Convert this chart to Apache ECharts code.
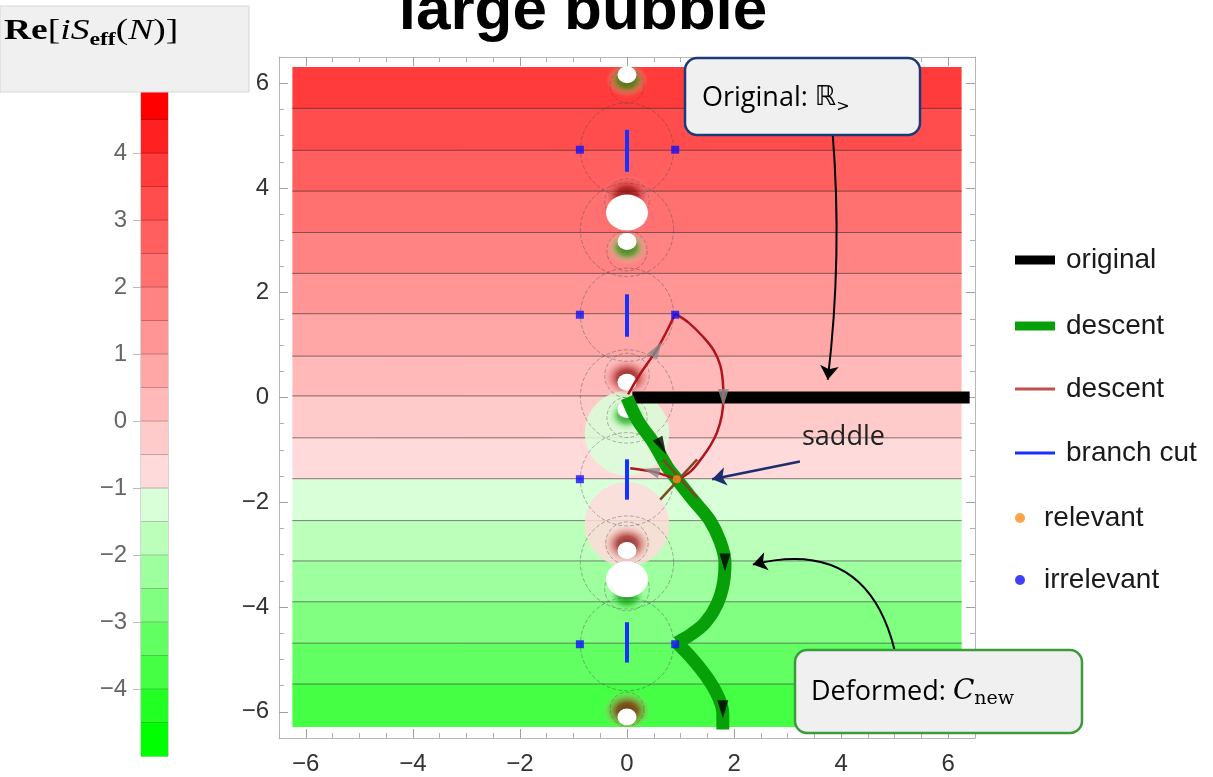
<!DOCTYPE html>
<html><head><meta charset="utf-8">
<script src="https://cdn.jsdelivr.net/npm/echarts@6/dist/echarts.min.js"></script>
<style>html,body{margin:0;padding:0;background:#fff;}#c{width:1213px;height:777px;}</style>
</head><body><div id="c"></div>
<script>
// ---------- DATA ----------
// colour bar levels Re[iS_eff(N)] and their colours
const cbEdges = [-5,-4.5,-4,-3.5,-3,-2.5,-2,-1.5,-1,-0.5,0,0.5,1,1.5,2,2.5,3,3.5,4,4.5,5];
const cbColors = ['#00ff00','#22ff22','#44ff44','#62ff62','#80ff80','#9dff9d','#bbffbb','#d9ffd9',
                  '#ffdada','#ffcaca','#ffb9b9','#ffa7a7','#ff9595','#ff8383','#ff7171','#ff5f5f','#ff4d4d','#ff3b3b','#ff2121','#ff0000'];
const cbTicks = [-4,-3,-2,-1,0,1,2,3,4];
// main plot ticks
const majorTicks = [-6,-4,-2,0,2,4,6];
const minorTicks = [-6.5,-5.5,-5,-4.5,-3.5,-3,-2.5,-1.5,-1,-0.5,0.5,1,1.5,2.5,3,3.5,4.5,5,5.5,6.5];
// horizontal contour bands far from Re N = 0 (y edges, value inside band)
const bandEdgesY = [-6.28,-5.47,-4.69,-3.90,-3.12,-2.35,-1.55,-0.77,0.03,0.79,1.60,2.37,3.15,3.94,4.72,5.52,6.30];
const bandValues = [-3.75,-3.25,-2.75,-2.25,-1.75,-1.25,-0.75,-0.25,0.25,0.75,1.25,1.75,2.25,2.75,3.25,3.75];
const regionX = [-6.25, 6.25];
// tinted lens regions next to the poles  [x, y, radius, value]
const tintDiscs = [[0,-0.68,0.8,-1.25],[0,-2.42,0.8,-0.75]];
// contour rings around Re N = 0  [x, y, radius]
const contourRings = [[0,4.73,0.88],[0,3.2,0.88],[0,1.58,0.88],[0,0.02,0.88],[0,-1.56,0.88],[0,-3.15,0.88],[0,-4.71,0.88],
                      [0,3.75,0.42],[0,2.8,0.38],[0,0.42,0.42],[0,-0.38,0.38],[0,-2.78,0.4],[0,-3.65,0.42],[0,5.95,0.32],[0,-5.95,0.32]];
// poles
const redHalos = [[0,3.86],[0,0.38],[0,-2.8],[0,-5.98]];
const greenHalos = [[0,6.06],[0,2.86],[0,-0.34],[0,-3.8]];
const bigPoles = [[0,3.53],[0,-3.47]];
const smallPoles = [[0,6.16],[0,2.98],[0,0.29],[0,-0.23],[0,-2.92],[0,-6.1]];
// curves
const original = [[0.1,0],[6.4,0]];
const greenUpper = [[0,0],[0.19,-0.42],[0.49,-0.86],[0.75,-1.32],[0.93,-1.56],[1.23,-1.95],[1.55,-2.35],[1.74,-2.75],[1.83,-3.15],[1.8,-3.55],[1.68,-3.95],[1.46,-4.3],[1.2,-4.52],[0.93,-4.68]];
const greenLower = [[0.93,-4.68],[1.23,-5.0],[1.52,-5.38],[1.72,-5.75],[1.79,-6.05],[1.79,-6.34]];
const redA = [[0.02,0.06],[0.24,0.44],[0.56,0.92],[0.76,1.3],[0.9,1.6]];
const redB = [[0.9,1.6],[1.16,1.42],[1.42,1.16],[1.62,0.9],[1.74,0.62],[1.79,0.3],[1.8,0.0],[1.77,-0.35],[1.68,-0.67],[1.55,-0.93],[1.4,-1.15],[1.2,-1.4],[0.93,-1.58]];
const redC = [[0.06,-1.35],[0.5,-1.42],[0.93,-1.56]];
const branchCuts = [[[0,5.11],[0,4.31]],[[0,1.97],[0,1.16]],[[0,-1.18],[0,-1.95]],[[0,-4.29],[0,-5.06]]];
const relevant = [[0.93,-1.56]];
const irrelevant = [[-0.88,4.73],[0.9,4.73],[-0.88,1.58],[0.9,1.58],[-0.88,-1.56],[-0.88,-4.71],[0.9,-4.71]];
const saddleCross = [[[0.62,-1.95],[1.31,-1.18]],[[0.67,-1.18],[1.31,-1.91]]];
const grayArrows = [[0.56,0.92,-32],[1.8,0.0,180],[0.45,-1.4,75]];
const blackArrows = [[0.65,-0.93,208],[1.83,-3.15,180],[1.79,-5.95,180]];
const annotArrowOriginal = [[3.84,5.06],[3.75,0.34]];
const annotArrowSaddle = [[3.23,-1.22],[1.59,-1.56]];
const annotArrowDeformed = [[5.0,-4.83],[2.35,-3.19]];

// ---------- HELPERS ----------
const minus = v => (v < 0 ? '\u2212' + Math.abs(v) : String(v));
function bandColor(v){ for (let i=0;i<cbColors.length;i++){ if (v>=cbEdges[i] && v<cbEdges[i+1]) return cbColors[i]; } return cbColors[cbColors.length-1]; }
const FONT = '"Liberation Sans", Arial, Helvetica, sans-serif';

const bandData = bandValues.map((v,i)=>[regionX[0], bandEdgesY[i], regionX[1], bandEdgesY[i+1], v]);
const cbData = cbColors.map((c,i)=>[0, cbEdges[i], 1, cbEdges[i+1], i]);

function axisPair(kind, pos, withLabel){
  const base = {type:'value', min:-6.5, max:6.5, position:pos, splitLine:{show:false}, gridIndex:0};
  const major = Object.assign({}, base, {
    axisLine:{show:true, onZero:false, lineStyle:{color:'#b8b8b8', width:1}},
    axisTick:{show:true, inside:true, length:9, customValues:majorTicks, lineStyle:{color:'#a0a0a0'}},
    axisLabel: withLabel ? {show:true, customValues:majorTicks, formatter:minus, fontSize:24, color:'#333', fontFamily:FONT, margin: kind==='x'?14:10} : {show:false}
  });
  const minor = Object.assign({}, base, {
    axisLine:{show:false, onZero:false},
    axisTick:{show:true, inside:true, length:5, customValues:minorTicks, lineStyle:{color:'#b0b0b0'}},
    axisLabel:{show:false}
  });
  return [major, minor];
}

const xAxes = [...axisPair('x','bottom',true), ...axisPair('x','top',false),
  {type:'value', gridIndex:1, min:0, max:1, show:false}];
const yAxes = [...axisPair('y','left',true), ...axisPair('y','right',false),
  {type:'value', gridIndex:1, min:-5, max:5, position:'left',
   axisLine:{show:false, onZero:false}, splitLine:{show:false},
   axisTick:{show:true, customValues:cbTicks, length:8, lineStyle:{color:'#bbb'}},
   axisLabel:{customValues:cbTicks, formatter:minus, fontSize:24, color:'#666', fontFamily:FONT, margin:14}}];

function lineSeries(name, data, color, width, extra){
  return Object.assign({type:'line', name, data, xAxisIndex:0, yAxisIndex:0, symbol:'none', showSymbol:false,
    lineStyle:{color, width, cap:'butt'}, itemStyle:{color}, silent:true, animation:false}, extra||{});
}

const series = [
  // background bands with horizontal contour lines
  {type:'custom', name:'bands', xAxisIndex:0, yAxisIndex:0, data:bandData, encode:{x:[0,2], y:[1,3]}, silent:true, z:1,
   renderItem:(params, api)=>{
     const p0 = api.coord([api.value(0), api.value(3)]);
     const p1 = api.coord([api.value(2), api.value(1)]);
     const ch = [{type:'rect', shape:{x:p0[0], y:p0[1]-0.5, width:p1[0]-p0[0], height:p1[1]-p0[1]+1}, style:{fill:bandColor(api.value(4))}}];
     if (params.dataIndex>0) ch.push({type:'line', shape:{x1:p0[0], y1:p1[1], x2:p1[0], y2:p1[1]}, style:{stroke:'rgba(50,50,50,0.6)', lineWidth:1}});
     return {type:'group', children:ch};
   }},
  // tinted lens regions
  {type:'custom', name:'tints', xAxisIndex:0, yAxisIndex:0, data:tintDiscs, encode:{x:0, y:1}, silent:true, z:2,
   renderItem:(params, api)=>{
     const c = api.coord([api.value(0), api.value(1)]);
     const s = api.size([api.value(2), api.value(2)]);
     return {type:'circle', shape:{cx:c[0], cy:c[1], r:(s[0]+s[1])/2}, style:{fill:bandColor(api.value(3)), opacity:0.85}};
   }},
  // contour rings near Re N = 0
  {type:'custom', name:'rings', xAxisIndex:0, yAxisIndex:0, data:contourRings, encode:{x:0, y:1}, silent:true, z:2,
   renderItem:(params, api)=>{
     const c = api.coord([api.value(0), api.value(1)]);
     const s = api.size([api.value(2), api.value(2)]);
     return {type:'circle', shape:{cx:c[0], cy:c[1], r:(s[0]+s[1])/2}, style:{fill:'none', stroke:'rgba(70,70,70,0.4)', lineWidth:1, lineDash:[4,2]}};
   }},
  // pole halos
  {type:'scatter', name:'redHalo', data:redHalos, symbol:'circle', symbolSize:[50,40], silent:true, z:3,
   itemStyle:{color:new echarts.graphic.RadialGradient(0.5,0.5,0.5,[
     {offset:0,color:'rgba(110,0,0,1)'},{offset:0.4,color:'rgba(150,15,15,0.85)'},{offset:0.7,color:'rgba(200,70,70,0.35)'},{offset:1,color:'rgba(255,200,200,0)'}])}},
  {type:'scatter', name:'greenHalo', data:greenHalos, symbol:'circle', symbolSize:[42,34], silent:true, z:3,
   itemStyle:{color:new echarts.graphic.RadialGradient(0.5,0.5,0.5,[
     {offset:0,color:'rgba(0,120,0,1)'},{offset:0.45,color:'rgba(20,170,20,0.75)'},{offset:0.75,color:'rgba(120,230,120,0.3)'},{offset:1,color:'rgba(200,255,200,0)'}])}},
  {type:'scatter', name:'bigPoles', data:bigPoles, symbol:'circle', symbolSize:[42,36], silent:true, z:4, itemStyle:{color:'#ffffff', opacity:1}},
  {type:'scatter', name:'smallPoles', data:smallPoles, symbol:'circle', symbolSize:[19,17], silent:true, z:4, itemStyle:{color:'#ffffff', opacity:1}},
  // curves
  lineSeries('original', original, '#000000', 12, {z:5}),
  lineSeries('descent', greenUpper, '#08a008', 13, {z:6, smooth:0.35}),
  lineSeries('descent', greenLower, '#08a008', 13, {z:6, smooth:0.3}),
  lineSeries('descent ', redA, '#b0141c', 2.5, {z:7, smooth:0.3}),
  lineSeries('descent ', redB, '#b0141c', 2.5, {z:7, smooth:0.4}),
  lineSeries('descent ', redC, '#b0141c', 2.5, {z:7, smooth:0.3}),
  {type:'lines', name:'branch cut', coordinateSystem:'cartesian2d', xAxisIndex:0, yAxisIndex:0, silent:true, z:8,
   data:branchCuts.map(c=>({coords:c})), lineStyle:{color:'#1630ff', width:4, opacity:1}, itemStyle:{color:'#1630ff'}},
  {type:'lines', name:'saddleX', coordinateSystem:'cartesian2d', xAxisIndex:0, yAxisIndex:0, silent:true, z:9,
   data:saddleCross.map(c=>({coords:c})), lineStyle:{color:'#7a4b1f', width:2.5, opacity:1}},
  {type:'scatter', name:'relevant', data:relevant, symbol:'circle', symbolSize:8, z:10, silent:true, itemStyle:{color:'#ff8c1a'}},
  {type:'scatter', name:'irrelevant', data:irrelevant, symbol:'rect', symbolSize:8, z:10, silent:true, itemStyle:{color:'#1010ff'}},
  {type:'scatter', name:'grayArrows', data:grayArrows.map(a=>({value:[a[0],a[1]], symbolRotate:a[2]})), symbol:'triangle', symbolSize:[11,17], z:11, silent:true, itemStyle:{color:'#8a8a8a'}},
  {type:'scatter', name:'blackArrows', data:blackArrows.map(a=>({value:[a[0],a[1]], symbolRotate:a[2]})), symbol:'triangle', symbolSize:[11,18], z:11, silent:true, itemStyle:{color:'#000'}},
  // annotation arrows
  {type:'lines', name:'arrowOrig', coordinateSystem:'cartesian2d', xAxisIndex:0, yAxisIndex:0, silent:true, z:12,
   data:[{coords:annotArrowOriginal}], symbol:['none','arrow'], symbolSize:14, lineStyle:{color:'#000', width:2, curveness:0.05, opacity:1}, itemStyle:{color:'#000'}},
  {type:'lines', name:'arrowSaddle', coordinateSystem:'cartesian2d', xAxisIndex:0, yAxisIndex:0, silent:true, z:12,
   data:[{coords:annotArrowSaddle}], symbol:['none','arrow'], symbolSize:14, lineStyle:{color:'#1b2e6e', width:2.5, curveness:0, opacity:1}},
  {type:'lines', name:'arrowDef', coordinateSystem:'cartesian2d', xAxisIndex:0, yAxisIndex:0, silent:true, z:12,
   data:[{coords:annotArrowDeformed}], symbol:['none','arrow'], symbolSize:14, lineStyle:{color:'#000', width:2, curveness:-0.5, opacity:1}},
  // colour bar
  {type:'custom', name:'colorbar', xAxisIndex:4, yAxisIndex:4, data:cbData, encode:{x:[0,2], y:[1,3]}, silent:true,
   renderItem:(params, api)=>{
     const p0 = api.coord([api.value(0), api.value(3)]);
     const p1 = api.coord([api.value(2), api.value(1)]);
     const ch = [{type:'rect', shape:{x:p0[0], y:p0[1]-0.5, width:p1[0]-p0[0], height:p1[1]-p0[1]+1}, style:{fill:cbColors[api.value(4)]}}];
     if (params.dataIndex>0) ch.push({type:'line', shape:{x1:p0[0], y1:p1[1], x2:p1[0], y2:p1[1]}, style:{stroke:'rgba(0,0,0,0.22)', lineWidth:1}});
     return {type:'group', children:ch};
   }}
];

function legendItem(name, top, left, w, h, icon, color, padLeft){
  return {show:true, orient:'vertical', left, top, itemWidth:w, itemHeight:h, selectedMode:false,
    data:[{name, icon, itemStyle:{color, borderWidth:0}}],
    textStyle:{fontSize:28, color:'#1a1a1a', fontFamily:FONT, padding:[0,0,0,padLeft]}};
}

const option = {
  animation:false,
  backgroundColor:'#ffffff',
  title:{text:'large bubble', left:578, textAlign:'center', top:-24,
         textStyle:{fontSize:62, fontWeight:'bold', color:'#000', fontFamily:FONT}},
  grid:[{left:279, top:57, width:696, height:681, show:false},
        {left:141, top:86, width:27, height:670, show:true, borderColor:'#aaa', borderWidth:1, backgroundColor:'transparent'}],
  xAxis:xAxes, yAxis:yAxes,
  legend:[
    legendItem('original', 241, 1010, 40, 9, 'rect', '#000', 6),
    legendItem('descent', 307, 1010, 40, 9, 'rect', '#08a008', 6),
    legendItem('descent ', 370, 1010, 40, 3, 'rect', '#c0504d', 6),
    legendItem('branch cut', 434, 1010, 40, 3, 'rect', '#1630ff', 6),
    legendItem('relevant', 499, 1010, 10, 10, 'circle', '#ff8c1a', 14),
    legendItem('irrelevant', 561, 1010, 10, 10, 'circle', '#1010ff', 14)
  ],
  series,
  graphic:[
    {type:'rect', z:100, shape:{x:0, y:6, width:249, height:86}, style:{fill:'#f0f0f0', stroke:'#d6d6d6', lineWidth:1}},
    {type:'text', z:101, x:4, y:31, scaleX:1.25, style:{
      text:'{b|Re}{n|[}{i|iS}{s|eff}{n|(}{i|N}{n|)]}',
      textVerticalAlign:'middle',
      rich:{
        b:{fontSize:30, fontWeight:'bold', fontFamily:'"Liberation Serif", "DejaVu Serif", serif', color:'#222', lineHeight:38, verticalAlign:'middle'},
        n:{fontSize:30, fontFamily:'"Liberation Serif", "DejaVu Serif", serif', color:'#222', lineHeight:38, verticalAlign:'middle'},
        i:{fontSize:30, fontStyle:'italic', fontFamily:'"Liberation Serif", "DejaVu Serif", serif', color:'#222', lineHeight:38, verticalAlign:'middle'},
        s:{fontSize:19, fontWeight:'bold', fontFamily:'"Liberation Serif", "DejaVu Serif", serif', color:'#222', lineHeight:19, verticalAlign:'bottom'}
      }}},
    {type:'rect', z:100, shape:{x:685, y:58, width:235, height:77, r:12}, style:{fill:'#f0f0f0', stroke:'#1d3a78', lineWidth:2.5}},
    {type:'text', z:101, x:702, y:98, style:{
      text:'{t|Original: }{r|\u211D}{s|>}', textVerticalAlign:'middle',
      rich:{ t:{fontSize:27, fontFamily:'"Open Sans", "DejaVu Sans", sans-serif', color:'#222', lineHeight:34, verticalAlign:'middle'},
             r:{fontSize:27, fontFamily:'"DejaVu Sans", sans-serif', color:'#222', lineHeight:34, verticalAlign:'middle'},
             s:{fontSize:16, fontFamily:'"DejaVu Sans", sans-serif', color:'#222', lineHeight:16, verticalAlign:'bottom'} }}},
    {type:'rect', z:100, shape:{x:795, y:650, width:287, height:83, r:12}, style:{fill:'#f0f0f0', stroke:'#3c9a3c', lineWidth:2.5}},
    {type:'text', z:101, x:811, y:692, style:{
      text:'{t|Deformed: }{c|C}{s|new}', textVerticalAlign:'middle',
      rich:{ t:{fontSize:27, fontFamily:'"Open Sans", "DejaVu Sans", sans-serif', color:'#222', lineHeight:34, verticalAlign:'middle'},
             c:{fontSize:28, fontStyle:'italic', fontFamily:'"DejaVu Serif", serif', color:'#222', lineHeight:34, verticalAlign:'middle'},
             s:{fontSize:19, fontFamily:'"DejaVu Serif", serif', color:'#222', lineHeight:19, verticalAlign:'bottom'} }}},
    {type:'text', z:101, x:802, y:437, style:{text:'saddle', fontSize:27, fontFamily:'"Open Sans", "DejaVu Sans", sans-serif', fill:'#222', textVerticalAlign:'middle'}}
  ]
};
const chart = echarts.init(document.getElementById('c'));
chart.setOption(option);
</script></body></html>
